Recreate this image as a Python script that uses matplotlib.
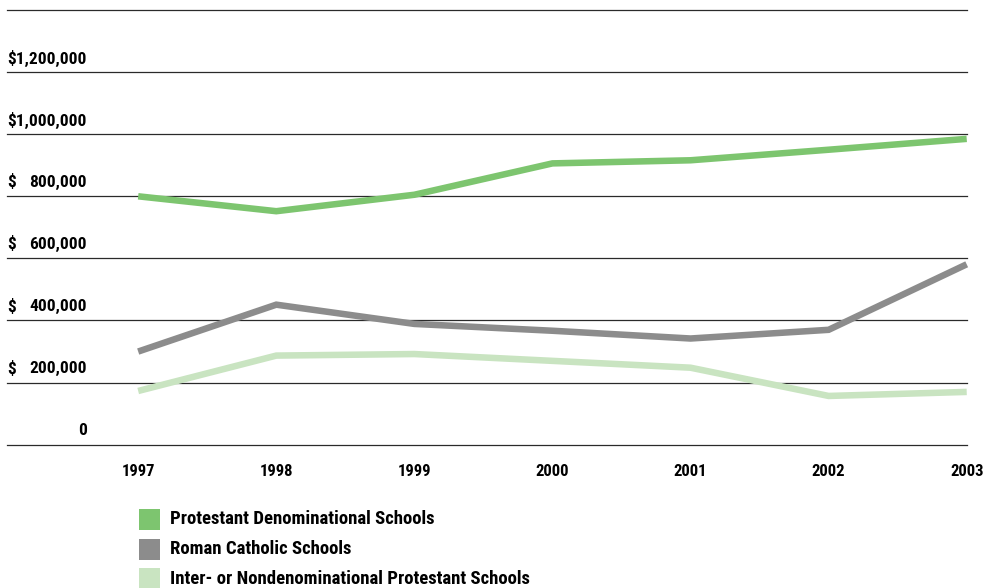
import matplotlib
matplotlib.use("Agg")
import matplotlib.pyplot as plt
from matplotlib.patches import Rectangle

# Annual totals by school type
years = [1997, 1998, 1999, 2000, 2001, 2002, 2003]
protestant = [800000, 752000, 805000, 906000, 916000, 950000, 985000]
catholic = [300000, 451000, 389000, 367000, 342000, 370000, 581000]
nondenominational = [173000, 287000, 292000, 270000, 248000, 157000, 170000]

series_names = [
    "Protestant Denominational Schools",
    "Roman Catholic Schools",
    "Inter- or Nondenominational Protestant Schools",
]
series_values = [protestant, catholic, nondenominational]
series_colors = ["#7dc56f", "#8c8c8c", "#c9e4c1"]

y_ticks = [0, 200000, 400000, 600000, 800000, 1000000, 1200000, 1400000]
y_labels = ["0", "$ 200,000", "$ 400,000", "$ 600,000", "$ 800,000",
            "$1,000,000", "$1,200,000", ""]

plt.rcParams["font.family"] = ["Roboto Condensed", "DejaVu Sans"]
plt.rcParams["font.weight"] = "bold"

W, H = 989, 588
fig = plt.figure(figsize=(W / 100, H / 100), dpi=100)

left, right, top, bottom = 7, 966.7, 10, 444.7
ax = fig.add_axes([left / W, 1 - bottom / H, (right - left) / W, (bottom - top) / H])
ax.set_xlim(1996.05, 2003)
ax.set_ylim(0, 1400000)
ax.axis("off")

for v in y_ticks:
    ax.axhline(v, color="#2a2a2a", lw=0.9, zorder=1, clip_on=False)

for vals, col in zip(series_values, series_colors):
    ax.plot(years, vals, color=col, lw=4.7, solid_joinstyle="miter",
            solid_capstyle="butt", zorder=3, clip_on=False)

px = 72 / 100  # points per pixel
weight = "heavy"
for v, lab in zip(y_ticks, y_labels):
    if not lab:
        continue
    if lab.startswith("$ "):
        ax.annotate("$", xy=(1996.05, v), xytext=(0, 14 * px), textcoords="offset points",
                    ha="left", va="center", fontsize=12.5, fontweight=weight)
        text = lab[2:]
    else:
        text = lab
    ax.annotate(text, xy=(1996.05, v), xytext=(80 * px, 14 * px), textcoords="offset points",
                ha="right", va="center", fontsize=12.5, fontweight=weight)

for yr in years:
    ax.annotate(str(yr), xy=(yr, 0), xytext=(0, -26.5 * px), textcoords="offset points",
                ha="center", va="center", fontsize=12, fontweight=weight)

# Legend entries, stacked below the chart
row_centers = [519.5, 549, 578.5]
for name, col, yc in zip(series_names, series_colors, row_centers):
    sq = 21
    fig.add_artist(Rectangle((139 / W, 1 - (yc + sq / 2) / H), sq / W, sq / H,
                             transform=fig.transFigure, facecolor=col, edgecolor="none"))
    fig.text(170 / W, 1 - yc / H, name, ha="left", va="center",
             fontsize=13.5, fontweight=weight)

fig.savefig("out.png", dpi=100, facecolor="white")
